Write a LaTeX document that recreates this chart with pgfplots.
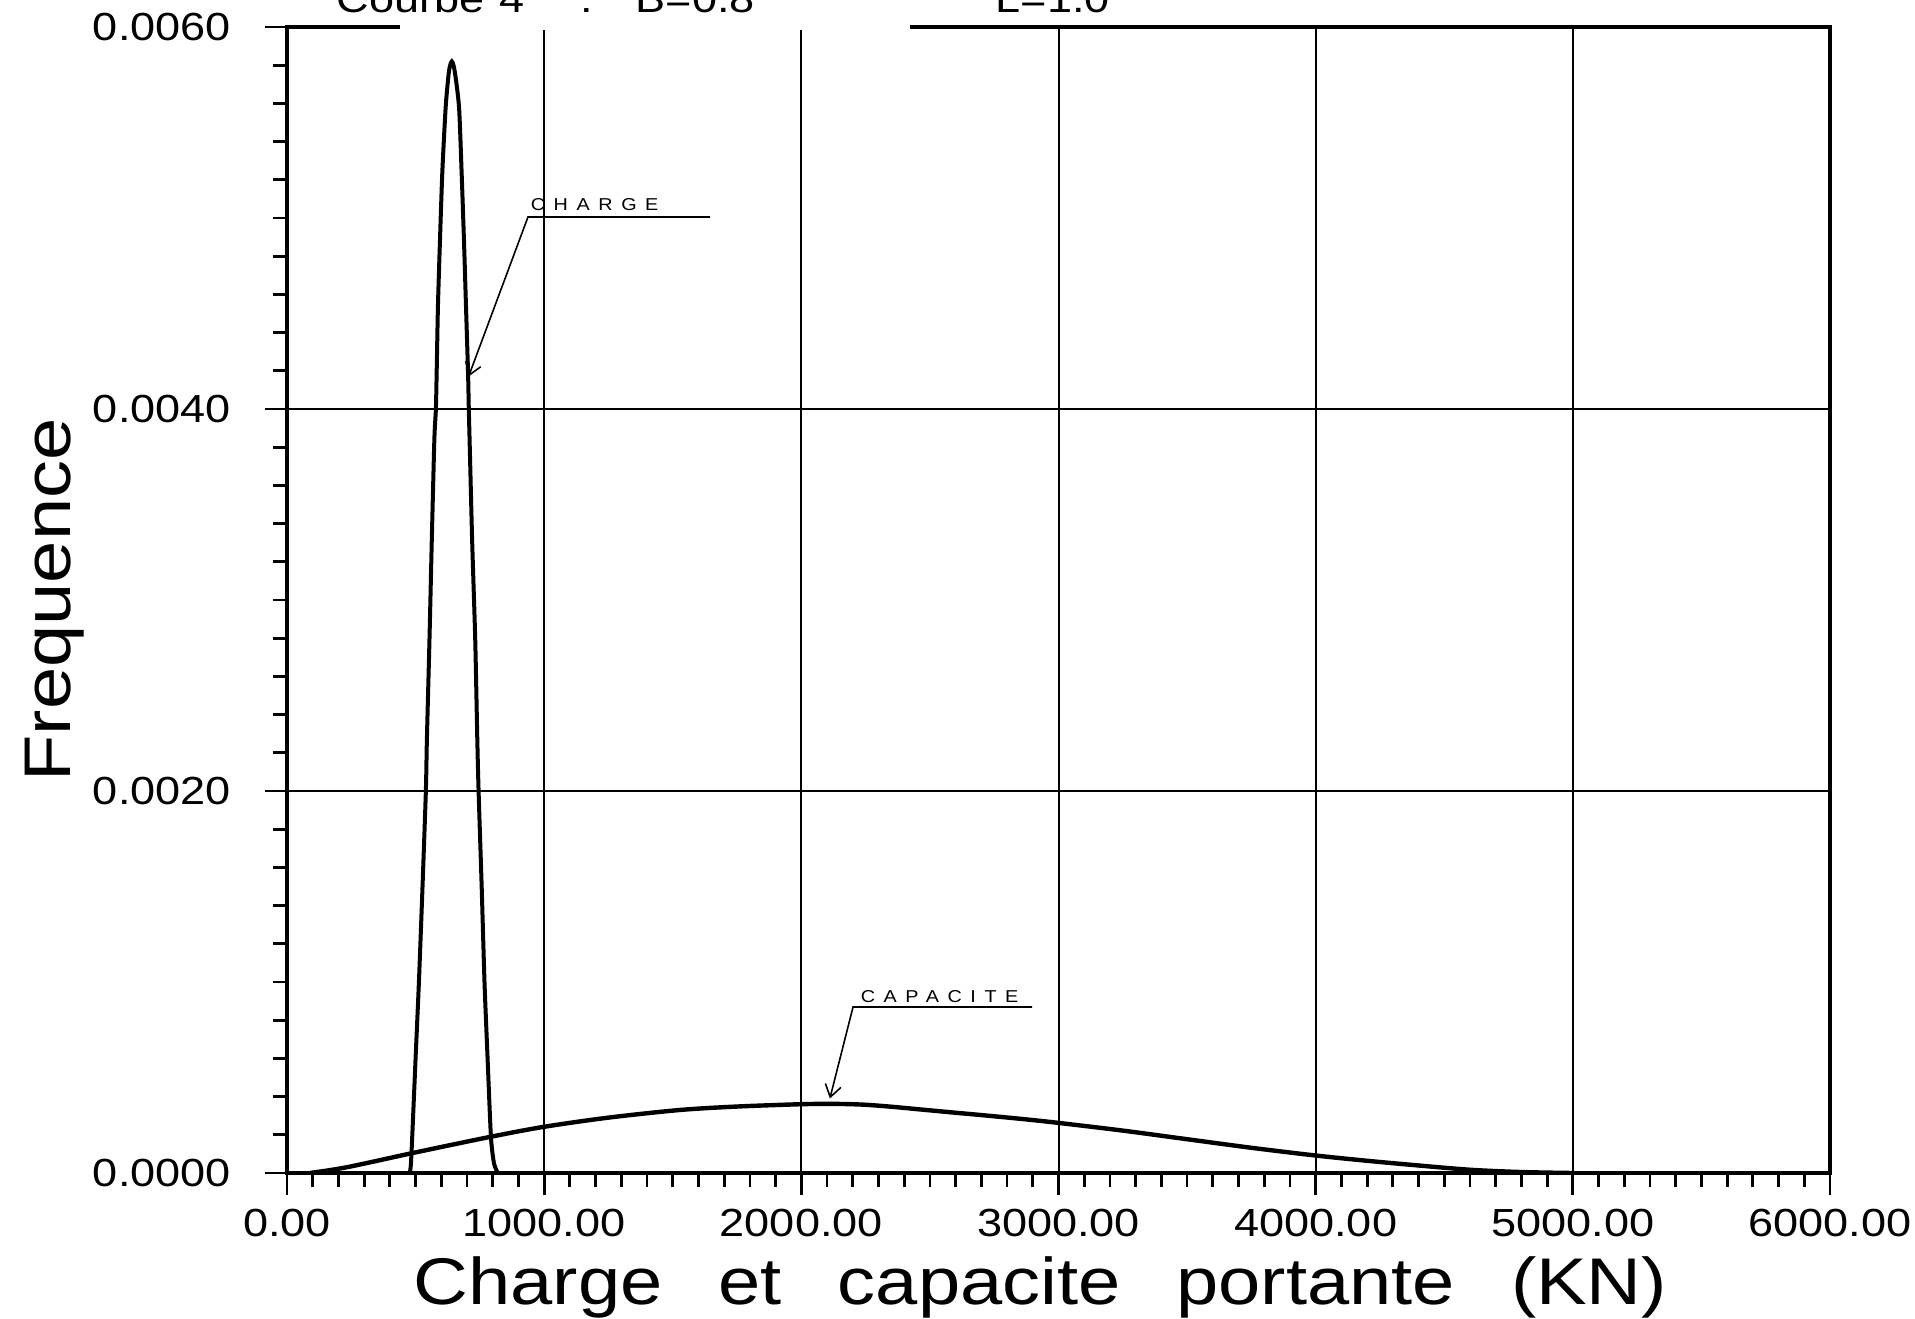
\documentclass[border=0pt]{standalone}
\usepackage{fontspec}
\setmainfont{Liberation Sans}[FakeStretch=1.15]
\newfontfamily\annfont{Liberation Sans}[FakeStretch=1.15, LetterSpace=50]
\usepackage{pgfplots}
\pgfplotsset{compat=1.18}
\usetikzlibrary{arrows.meta}

\pgfplotstableread{
x y
478 0
482 0.00005
487 0.00019
500 0.0006
513 0.0010
527 0.0015
540 0.0020
544 0.00227
554 0.00279
563 0.00331
573 0.00384
579 0.0040
582 0.00419
587 0.00454
595 0.00489
604 0.00524
617 0.00558
630 0.00577
641 0.00582
652 0.00577
669 0.00558
679 0.00524
688 0.00489
696 0.00454
704 0.00419
707 0.0040
710 0.00384
720 0.00331
732 0.00279
740 0.00227
745 0.0020
757 0.0015
768 0.0010
780 0.0006
793 0.00019
805 0.00005
820 0
}\charge

\pgfplotstableread{
x y
89 0
232 0.00003
490 0.000105
793 0.00019
1000 0.000242
1250 0.00029
1528 0.00033
1750 0.000348
1995 0.00036
2120 0.000362
2240 0.000358
2350 0.000347
2461 0.000333
2580 0.000318
2694 0.000304
2850 0.000284
2996 0.000263
3250 0.000222
3472 0.000182
3750 0.000132
3997 0.000092
4200 0.000064
4378 0.000042
4600 0.000017
4800 0.000005
5000 0
}\capacite

\newcommand{\tfont}{\fontsize{9.8}{11}\selectfont}
\newcommand{\lfont}{\fontsize{16.5}{18}\selectfont}

\begin{document}
\begin{tikzpicture}
\begin{axis}[
  name=ax,
  scale only axis,
  width=385.75pt, height=286.5pt,
  xmin=0, xmax=6000, ymin=0, ymax=0.006,
  xtick={0,1000,...,6000},
  ytick={0,0.002,0.004,0.006},
  minor x tick num=9,
  minor y tick num=9,
  xtick pos=left, ytick pos=left,
  tick align=outside,
  major tick length=5.5pt,
  minor tick length=3.5pt,
  grid=major,
  major grid style={black, line width=0.5pt},
  axis line style={black, line width=0.8pt},
  tick style={black, line width=0.7pt},
  scaled y ticks=false,
  scaled x ticks=false,
  /pgf/number format/assume math mode=true,
  xticklabel style={font=\tfont, /pgf/number format/.cd, fixed, fixed zerofill, precision=2, 1000 sep={}},
  yticklabel style={font=\tfont, xshift=-5pt, /pgf/number format/.cd, fixed, fixed zerofill, precision=4},
]
\addplot[black, line width=1pt, smooth, tension=0.4] table {\charge};
\addplot[black, line width=1.1pt, smooth, tension=0.5] table {\capacite};

\draw[line width=0.4pt, -{Straight Barb[length=3pt,width=4pt]}] (axis cs:1645,0.005005) -- (axis cs:937,0.005005) -- (axis cs:706,0.00417);
\node[anchor=base west, inner sep=0, font=\annfont\fontsize{4.3}{5}\selectfont] at (axis cs:945,0.00504) {CHARGE};

\draw[line width=0.4pt, -{Straight Barb[length=3pt,width=4pt]}] (axis cs:2897,0.000869) -- (axis cs:2201,0.000869) -- (axis cs:2111,0.00039);
\node[anchor=base west, inner sep=0, font=\annfont\fontsize{4.3}{5}\selectfont] at (axis cs:2228,0.000895) {CAPACITE};
\end{axis}

\draw[white, line width=1.4pt] ([xshift=28.2pt]ax.north west) -- ([xshift=155.7pt]ax.north west);

\node[anchor=base west, inner sep=0, font=\tfont] at ([shift={(12.2pt,3.6pt)}]ax.north west) {Courbe};
\node[anchor=base west, inner sep=0, font=\tfont] at ([shift={(53pt,3.6pt)}]ax.north west) {4};
\node[anchor=base west, inner sep=0, font=\tfont] at ([shift={(73.2pt,3.6pt)}]ax.north west) {:};
\node[anchor=base west, inner sep=0, font=\tfont] at ([shift={(87pt,3.6pt)}]ax.north west) {B=0.8};
\node[anchor=base west, inner sep=0, font=\tfont] at ([shift={(177pt,3.6pt)}]ax.north west) {L=1.0};

\node[anchor=base, inner sep=0, font=\lfont] at ([shift={(-4.5pt,-32.75pt)}]ax.south) {\spaceskip=14pt Charge et capacite portante (KN)};
\node[anchor=base, rotate=90, inner sep=0, font=\lfont] at ([xshift=-54pt]ax.west) {Frequence};

\pgfresetboundingbox
\useasboundingbox ([shift={(-71.75pt,-36.25pt)}]ax.south west) rectangle ([shift={(407pt,293.25pt)}]ax.south west);
\end{tikzpicture}
\end{document}
